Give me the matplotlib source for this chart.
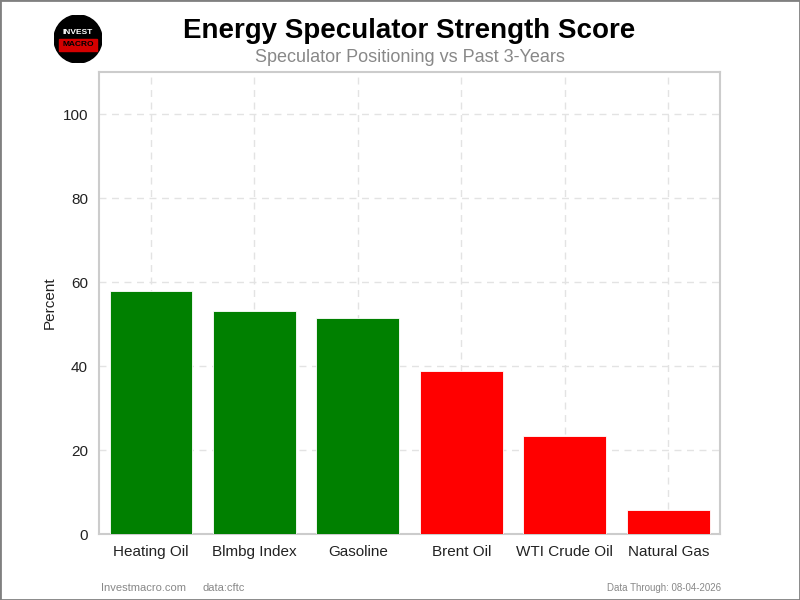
import matplotlib.pyplot as plt
from matplotlib.patches import Circle, Rectangle

plt.rcParams['font.family'] = ['Liberation Sans', 'DejaVu Sans']

markets = ['Heating Oil', 'Blmbg Index', 'Gasoline', 'Brent Oil', 'WTI Crude Oil', 'Natural Gas']
scores = [57.9, 53.1, 51.5, 38.7, 23.4, 5.7]
bar_colors = ['green', 'green', 'green', 'red', 'red', 'red']

fig = plt.figure(figsize=(8, 6), dpi=100)
ax = fig.add_axes([0.124, 0.11, 0.776, 0.77])

x = range(len(markets))
ax.bar(x, scores, width=0.8, color=bar_colors, edgecolor='white', linewidth=0.6, zorder=3)
ax.set_xticks(list(x))
ax.set_xticklabels(markets, fontsize=11, color='#222222')
ax.set_xlim(-0.5, len(markets) - 0.5)
ax.set_ylim(0, 110)
ax.set_yticks([0, 20, 40, 60, 80, 100])
ax.tick_params(axis='y', labelsize=11, colors='#222222', length=0, pad=8)
ax.tick_params(axis='x', length=0, pad=8)
ax.set_ylabel('Percent', fontsize=11, color='#222222', labelpad=4)
ax.grid(True, linestyle=(0, (5, 4)), color='#e3e3e3', linewidth=1, zorder=0)
for s in ax.spines.values():
    s.set_color('#cccccc')
    s.set_linewidth(1.5)

fig.text(0.512, 0.948, 'Energy Speculator Strength Score', ha='center', va='center',
         fontsize=20, fontweight='bold', color='black')
fig.text(0.512, 0.905, 'Speculator Positioning vs Past 3-Years', ha='center', va='center',
         fontsize=13, color='#888888')

# logo
lax = fig.add_axes([0.0675, 0.895, 0.06, 0.08])
lax.set_xlim(-1, 1)
lax.set_ylim(-1, 1)
lax.set_aspect('equal')
lax.axis('off')
lax.add_patch(Circle((0, 0), 1, color='black'))
lax.add_patch(Rectangle((-0.8, -0.5), 1.6, 0.5, color='#d40000'))
lax.text(0, 0.25, 'INVEST', ha='center', va='center', fontsize=6, fontweight='bold', color='white')
lax.text(0, -0.25, 'MACRO', ha='center', va='center', fontsize=6, fontweight='bold', color='black')

fig.text(0.126, 0.02, 'Investmacro.com', fontsize=8, color='#888888', va='center')
fig.text(0.253, 0.02, 'data:cftc', fontsize=8, color='#888888', va='center')
fig.text(0.902, 0.02, 'Data Through: 08-04-2026', fontsize=7, color='#888888', va='center', ha='right')

fig.patches.append(Rectangle((0, 0), 1, 1, transform=fig.transFigure, fill=False,
                             edgecolor='#808080', linewidth=2))

fig.savefig('out.png', dpi=100)
